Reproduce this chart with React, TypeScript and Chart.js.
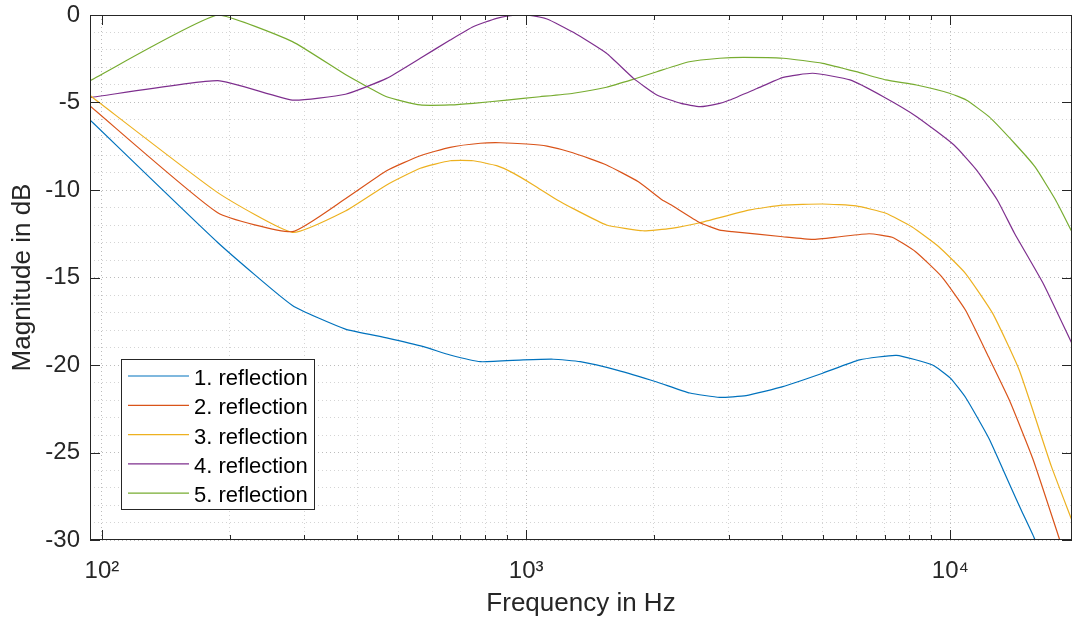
import React, { useEffect, useRef } from "react";
import { Chart, registerables } from "chart.js";

Chart.register(...registerables);

// ---------- data ----------
const seriesNames = ["1. reflection", "2. reflection", "3. reflection", "4. reflection", "5. reflection"];
const seriesColors = ["#0072BD", "#D95319", "#EDB120", "#7E2F8E", "#77AC30"];

const freq1 = [93.75, 187.5, 281.25, 375, 469, 573, 662, 780, 984, 1159, 1341, 1637, 2033, 2432, 2859, 3300, 4028, 4999, 6110, 7465, 9077, 10000, 10890, 12330, 13720, 14760, 15770, 17100, 19300];
const mag1 = [-6.0, -13.0, -16.6, -17.95, -18.45, -18.95, -19.43, -19.81, -19.71, -19.67, -19.81, -20.29, -20.97, -21.6, -21.85, -21.75, -21.24, -20.47, -19.71, -19.45, -20.0, -20.75, -21.9, -24.2, -26.7, -28.4, -29.9, -32.3, -35.5];

const freq2 = [93.75, 187.5, 281.25, 375, 469, 563, 662, 780, 869, 1003, 1120, 1288, 1547, 1839, 2094, 2200, 2570, 2859, 3058, 4028, 4736, 5480, 6434, 7290, 8280, 9537, 10850, 12300, 13770, 15650, 18050, 19300];
const mag2 = [-5.2, -11.3, -12.38, -10.5, -8.9, -8.04, -7.56, -7.33, -7.3, -7.37, -7.49, -7.87, -8.57, -9.53, -10.57, -10.86, -11.87, -12.29, -12.38, -12.67, -12.82, -12.67, -12.5, -12.7, -13.53, -14.95, -16.86, -19.53, -22.0, -25.37, -29.9, -32.1];

const freq3 = [93.75, 187.5, 281.25, 375, 469, 563, 662, 750, 852, 935, 1040, 1184, 1288, 1547, 1887, 2200, 2570, 3369, 4028, 4999, 5994, 7045, 8110, 9390, 10850, 12580, 14530, 17310, 19330];
const mag3 = [-4.6, -10.15, -12.42, -11.2, -9.71, -8.76, -8.33, -8.33, -8.61, -9.05, -9.71, -10.57, -11.05, -12.0, -12.33, -12.19, -11.87, -11.14, -10.86, -10.8, -10.91, -11.33, -12.1, -13.24, -14.76, -17.05, -20.29, -25.81, -28.86];

const freq4 = [93.75, 187.5, 281.25, 375, 469, 563, 662, 750, 852, 950, 1003, 1120, 1292, 1547, 1791, 2033, 2318, 2570, 2859, 3020, 3500, 4037, 4737, 5800, 6950, 8330, 10200, 11530, 12900, 14160, 16540, 19330];
const mag4 = [-4.72, -3.75, -4.86, -4.53, -3.62, -2.47, -1.43, -0.67, -0.19, 0.0, 0.0, -0.23, -0.99, -2.19, -3.62, -4.57, -5.05, -5.24, -5.05, -4.86, -4.2, -3.56, -3.33, -3.71, -4.67, -5.81, -7.43, -8.86, -10.57, -12.47, -15.33, -18.76];

const freq5 = [93.75, 187.5, 281.25, 375, 469, 563, 662, 750, 900, 1077, 1292, 1547, 1791, 2033, 2424, 2859, 3252, 4037, 5000, 6000, 7040, 8320, 9950, 10900, 12330, 14160, 15820, 17700, 19330];
const mag5 = [-3.75, 0.0, -1.52, -3.4, -4.67, -5.14, -5.14, -5.05, -4.86, -4.67, -4.47, -4.13, -3.67, -3.24, -2.67, -2.47, -2.42, -2.47, -2.76, -3.24, -3.71, -4.0, -4.47, -4.86, -5.81, -7.33, -8.67, -10.57, -12.38];

const allFreqs = [freq1, freq2, freq3, freq4, freq5];
const allMags = [mag1, mag2, mag3, mag4, mag5];

const xMin = 93.75;
const xMax = 19350;
const xTickValues = [100, 200, 300, 400, 500, 600, 700, 800, 900, 1000, 2000, 3000, 4000, 5000, 6000, 7000, 8000, 9000, 10000];
const xMajorTicks = [100, 1000, 10000];
const xMajorLabels = ["10\u00B2", "10\u00B3", "10\u2074"];
const yMin = -30;
const yMax = 0;
const yLabelStep = 5;

const xTitle = "Frequency in Hz";
const yTitle = "Magnitude in dB";

const AXIS_COLOR = "#262626";
const FONT = "'Liberation Sans', Arial, Helvetica, sans-serif";

const frameAndLegend = {
  id: "frameAndLegend",
  afterDatasetsDraw(chart: any) {
    const { ctx, chartArea } = chart;
    const { left, right, top, bottom } = chartArea;
    const xs = chart.scales.x;
    const ys = chart.scales.y;
    ctx.save();
    ctx.strokeStyle = AXIS_COLOR;
    ctx.lineWidth = 1;
    ctx.setLineDash([]);
    ctx.strokeRect(left + 0.5, top + 0.5, right - left - 1, bottom - top - 1);
    ctx.beginPath();
    xTickValues.forEach((v) => {
      if (v < xMin || v > xMax) return;
      const px = Math.round(xs.getPixelForValue(v)) + 0.5;
      const len = xMajorTicks.includes(v) ? 10 : 5;
      ctx.moveTo(px, bottom);
      ctx.lineTo(px, bottom - len);
      ctx.moveTo(px, top);
      ctx.lineTo(px, top + len);
    });
    for (let v = yMin; v <= yMax; v += yLabelStep) {
      const py = Math.round(ys.getPixelForValue(v)) + 0.5;
      ctx.moveTo(left, py);
      ctx.lineTo(left + 10, py);
      ctx.moveTo(right, py);
      ctx.lineTo(right - 10, py);
    }
    ctx.stroke();

    const lx = left + 31;
    const ly = bottom - 181;
    const lw = 194;
    const lh = 151;
    ctx.fillStyle = "#ffffff";
    ctx.fillRect(lx, ly, lw, lh);
    ctx.strokeStyle = AXIS_COLOR;
    ctx.strokeRect(lx + 0.5, ly + 0.5, lw - 1, lh - 1);
    ctx.font = "22px " + FONT;
    ctx.textBaseline = "middle";
    ctx.textAlign = "left";
    chart.data.datasets.forEach((ds: any, i: number) => {
      const ry = ly + 17 + i * 29.3;
      ctx.strokeStyle = ds.borderColor;
      ctx.lineWidth = 1.2;
      ctx.beginPath();
      ctx.moveTo(lx + 7, ry);
      ctx.lineTo(lx + 68, ry);
      ctx.stroke();
      ctx.fillStyle = "#000000";
      ctx.fillText(ds.label, lx + 73, ry + 3);
    });
    ctx.restore();
  },
};

export default function App() {
  const canvasRef = useRef<HTMLCanvasElement | null>(null);

  useEffect(() => {
    if (!canvasRef.current) return;
    const datasets = seriesNames.map((name, i) => ({
      label: name,
      data: allFreqs[i].map((f, j) => ({ x: f, y: allMags[i][j] })),
      borderColor: seriesColors[i],
      backgroundColor: seriesColors[i],
      borderWidth: 1.2,
      pointRadius: 0,
      tension: 0.15,
      fill: false,
    }));

    const chart = new Chart(canvasRef.current, {
      type: "line",
      data: { datasets },
      plugins: [frameAndLegend],
      options: {
        animation: false,
        responsive: true,
        maintainAspectRatio: false,
        layout: { padding: { top: 15, right: 1, left: 0, bottom: 0 } },
        plugins: {
          legend: { display: false },
          tooltip: { enabled: false },
        },
        scales: {
          x: {
            type: "logarithmic",
            min: xMin,
            max: xMax,
            afterBuildTicks: (scale: any) => {
              scale.ticks = xTickValues
                .filter((v) => v >= xMin && v <= xMax)
                .map((v) => ({ value: v, major: xMajorTicks.includes(v) }));
            },
            afterFit: (scale: any) => {
              scale.height = 83;
              scale.paddingLeft = 0;
              scale.paddingRight = 0;
            },
            ticks: {
              autoSkip: false,
              maxRotation: 0,
              minRotation: 0,
              padding: 17,
              color: AXIS_COLOR,
              font: { family: FONT, size: 24 },
              callback: (value: any) => {
                const k = xMajorTicks.indexOf(Number(value));
                return k >= 0 ? xMajorLabels[k] : "";
              },
            },
            grid: {
              drawTicks: false,
              color: (c: any) => (c.tick && xMajorTicks.includes(c.tick.value) ? "#bcbcbc" : "#d4d4d4"),
              lineWidth: 1,
            },
            border: { display: false, dash: [1, 3] },
            title: {
              display: true,
              text: xTitle,
              color: AXIS_COLOR,
              font: { family: FONT, size: 26 },
              padding: { top: 0, bottom: 4 },
            },
          },
          y: {
            type: "linear",
            min: yMin,
            max: yMax,
            afterFit: (scale: any) => {
              scale.width = 90;
              scale.paddingTop = 0;
              scale.paddingBottom = 0;
            },
            ticks: {
              stepSize: 1,
              autoSkip: false,
              padding: 10,
              color: AXIS_COLOR,
              font: { family: FONT, size: 24 },
              callback: (value: any) => (Number(value) % yLabelStep === 0 ? String(value) : ""),
            },
            grid: {
              drawTicks: false,
              color: (c: any) => (c.tick && c.tick.value % yLabelStep === 0 ? "#bcbcbc" : "#d4d4d4"),
              lineWidth: 1,
            },
            border: { display: false, dash: [1, 3] },
            title: {
              display: true,
              text: yTitle,
              color: AXIS_COLOR,
              font: { family: FONT, size: 26 },
              padding: { top: 7, bottom: 0 },
            },
          },
        },
      },
    } as any);

    return () => {
      chart.destroy();
    };
  }, []);

  return (
    <div style={{ position: "fixed", left: 0, top: 0, width: 1073, height: 623, background: "#ffffff" }}>
      <canvas ref={canvasRef} style={{ display: "block" }} />
    </div>
  );
}
